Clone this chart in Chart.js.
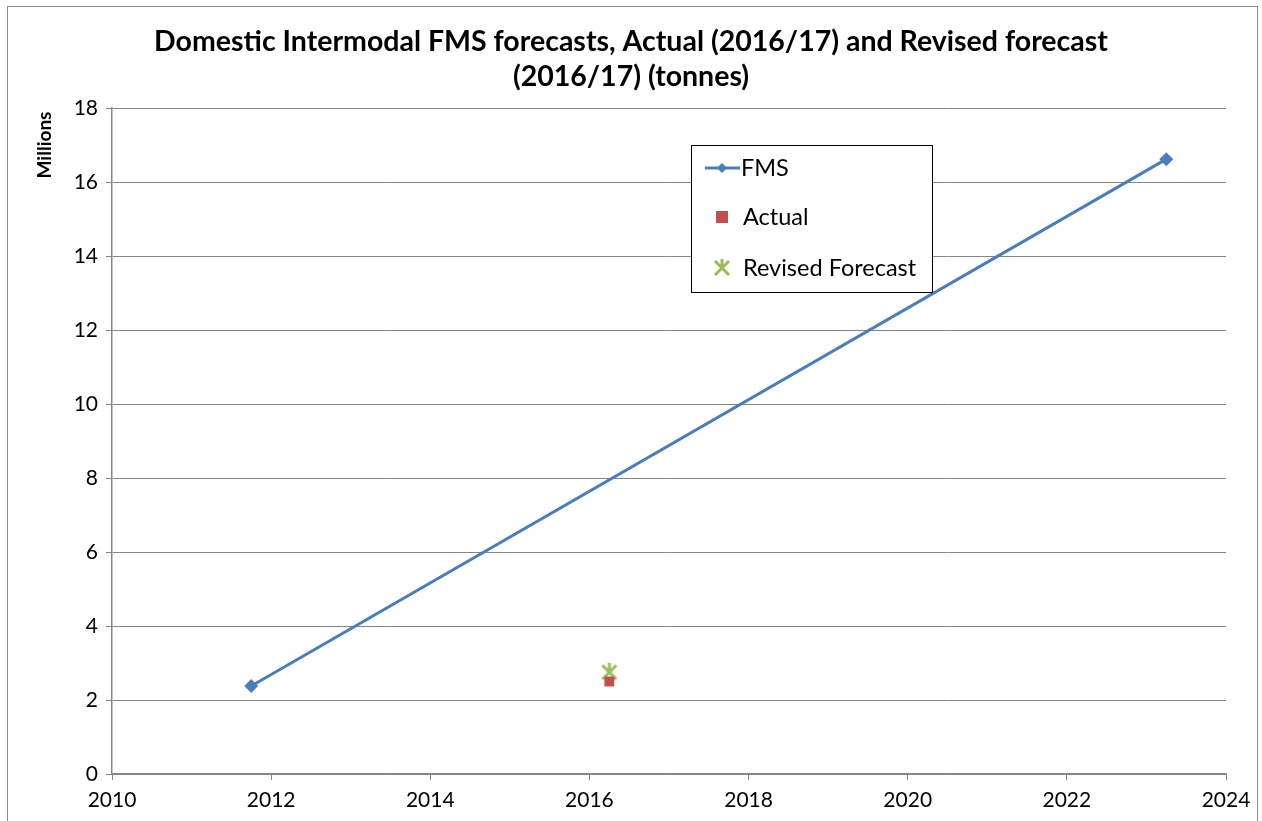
<!DOCTYPE html>
<html><head><meta charset="utf-8">
<script src="https://cdn.jsdelivr.net/npm/chart.js@4.4.1/dist/chart.umd.min.js"></script>
<style>
html,body{margin:0;padding:0;background:#fff;}
#wrap{position:relative;width:1262px;height:821px;}
#frame{position:absolute;left:7px;top:6px;width:1251px;height:830px;border:1.5px solid #8c8c8c;box-sizing:border-box;pointer-events:none;}
canvas{position:absolute;left:0;top:0;}
</style></head>
<body><div id="wrap"><canvas id="c" width="1262" height="821"></canvas><div id="frame"></div></div>
<script>
const titleLines = ["Domestic Intermodal FMS forecasts, Actual (2016/17) and Revised forecast", "(2016/17) (tonnes)"];
const yAxisTitle = "Millions";
const fmsYears = [2011.75, 2023.25];
const fmsValues = [2.38, 16.62];
const actualYears = [2016.25];
const actualValues = [2.5];
const revisedYears = [2016.25];
const revisedValues = [2.75];
const seriesNames = ["FMS", "Actual", "Revised Forecast"];
const xMin = 2010, xMax = 2024, xStep = 2;
const yMin = 0, yMax = 18, yStep = 2;

const FONT = "Lato, 'Liberation Sans', sans-serif";
const BLUE = "#4A7EBB", RED = "#C0504D", GREEN = "#9BBB59";

function starMarker(size){
  const c = document.createElement('canvas');
  c.width = size; c.height = size;
  const g = c.getContext('2d');
  g.strokeStyle = GREEN; g.lineWidth = 3; g.lineCap = 'butt';
  const m = 2;
  g.beginPath();
  g.moveTo(m, m); g.lineTo(size-m, size-m);
  g.moveTo(size-m, m); g.lineTo(m, size-m);
  g.moveTo(size/2, 0); g.lineTo(size/2, size/2);
  g.stroke();
  return c;
}
const starImg = starMarker(18);

const toPts = (xs, ys) => xs.map((x,i)=>({x, y: ys[i]}));

const centerTitle = {
  id: 'centerTitle',
  afterLayout(chart){
    const tb = chart.titleBlock;
    if (tb) { tb.left = 0; tb.right = chart.width; tb.width = chart.width; }
  }
};

const legendBox = {
  id:'legendBox',
  afterDraw(chart){
    const ctx = chart.ctx;
    ctx.save();
    const bx = 691, by = 145, bw = 241, bh = 147;
    ctx.fillStyle = '#fff';
    ctx.fillRect(bx, by, bw, bh);
    ctx.strokeStyle = '#000'; ctx.lineWidth = 1;
    ctx.strokeRect(bx+0.5, by+0.5, bw, bh);
    ctx.font = "23.5px " + FONT;
    ctx.textBaseline = 'middle';
    const rows = [168, 217, 268];
    ctx.strokeStyle = BLUE; ctx.lineWidth = 3;
    ctx.beginPath(); ctx.moveTo(705, rows[0]); ctx.lineTo(740, rows[0]); ctx.stroke();
    ctx.fillStyle = BLUE;
    ctx.beginPath(); ctx.moveTo(722, rows[0]-5); ctx.lineTo(727, rows[0]); ctx.lineTo(722, rows[0]+5); ctx.lineTo(717, rows[0]); ctx.closePath(); ctx.fill();
    ctx.fillStyle = RED;
    ctx.fillRect(716, rows[1]-6, 12, 12);
    ctx.drawImage(starImg, 713, rows[2]-9, 18, 18);
    ctx.fillStyle = '#000';
    ctx.fillText(seriesNames[0], 741, rows[0]);
    ctx.fillText(seriesNames[1], 743, rows[1]);
    ctx.fillText(seriesNames[2], 743, rows[2]);
    ctx.save();
    ctx.translate(45, 145);
    ctx.rotate(-Math.PI/2);
    ctx.font = "bold 19px " + FONT;
    ctx.textAlign = 'center';
    ctx.fillText(yAxisTitle, 0, 0);
    ctx.restore();
    ctx.restore();
  }
};

new Chart(document.getElementById('c'), {
  type: 'scatter',
  data: {
    datasets: [
      {label: seriesNames[0], data: toPts(fmsYears, fmsValues), showLine: true,
       borderColor: BLUE, backgroundColor: BLUE, borderWidth: 3,
       pointStyle: 'rectRot', pointRadius: 7, pointHoverRadius: 7, pointBorderWidth: 0},
      {label: seriesNames[1], data: toPts(actualYears, actualValues),
       borderColor: RED, backgroundColor: RED, pointStyle: 'rect', pointRadius: 7, pointBorderWidth: 0},
      {label: seriesNames[2], data: toPts(revisedYears, revisedValues),
       pointStyle: starImg, pointRadius: 9}
    ]
  },
  options: {
    responsive: false, animation: false,
    layout: {padding: {left: 8, right: 36, top: 0, bottom: 0}},
    plugins: {
      legend: {display: false},
      tooltip: {enabled: false},
      title: {display: true, text: titleLines, color: '#000',
        font: {family: FONT, size: 28.5, weight: 'bold', lineHeight: 1.23},
        padding: {top: 24, bottom: 14}}
    },
    scales: {
      x: {type: 'linear', min: xMin, max: xMax,
        ticks: {stepSize: xStep, color: '#000', font: {family: FONT, size: 21}, padding: 8, callback: v => String(v)},
        grid: {drawOnChartArea: false, drawTicks: true, tickLength: 6, color: '#868686', lineWidth: 1},
        border: {color: '#868686', width: 1.5},
        afterFit: s => { s.height = 47; }
      },
      y: {min: yMin, max: yMax,
        ticks: {stepSize: yStep, color: '#000', font: {family: FONT, size: 21}, padding: 8},
        grid: {color: '#868686', lineWidth: 1, tickLength: 6},
        border: {color: '#868686', width: 1.5},
        afterFit: s => { s.width = 104; }
      }
    }
  },
  plugins: [centerTitle, legendBox]
});
</script></body></html>
